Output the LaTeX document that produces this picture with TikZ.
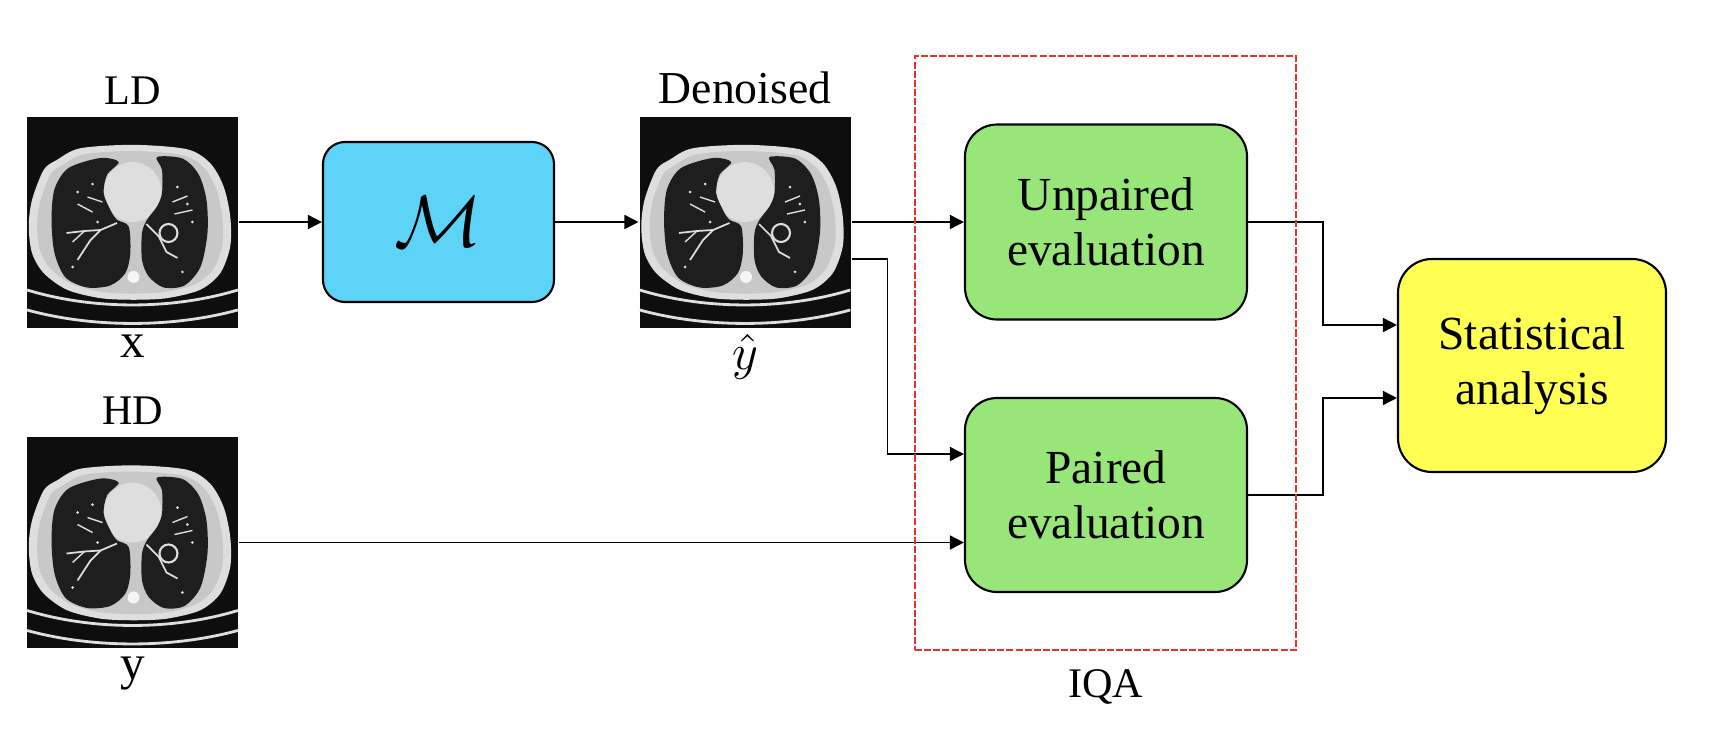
\documentclass[tikz,border=0pt]{standalone}
\usepackage{amsmath}
\usepackage{amssymb}
\usepackage{xcolor}
\usepackage{fontspec}
\setmainfont{Liberation Serif}
\usepackage{tikz}
\usetikzlibrary{arrows.meta,positioning}

\definecolor{modelblue}{RGB}{94,211,248}
\definecolor{evalgreen}{RGB}{152,230,122}
\definecolor{statyellow}{RGB}{255,255,84}
\definecolor{iqared}{RGB}{232,52,40}
\definecolor{ctbg}{RGB}{14,14,14}
\definecolor{cttissue}{RGB}{200,200,200}
\definecolor{ctlight}{RGB}{222,222,222}
\definecolor{ctlung}{RGB}{30,30,30}

\tikzset{
  ctscan/.pic={
    \begin{scope}[x=0.01cm,y=0.01cm]
    \clip (-105.5,-105.5) rectangle (105.5,105.5);
    \fill[ctbg] (-105.5,-105.5) rectangle (105.5,105.5);
    % table
    \draw[ctlight, line width=0.8pt] (-105.5,-68) .. controls (-40,-88) and (40,-88) .. (105.5,-68);
    \draw[ctlight, line width=0.8pt] (-105.5,-88) .. controls (-40,-106) and (40,-106) .. (105.5,-88);
    % body
    \fill[ctlight] plot[smooth cycle] coordinates {(-52.2,73.8) (1.2,77.2) (54.5,72.8) (77.8,58.8) (91.2,35.5) (97.8,5.5) (97.8,-24.5) (87.8,-51.2) (67.8,-67.8) (34.5,-76.2) (1.2,-77.8) (-32.2,-76.2) (-65.5,-67.8) (-88.8,-51.2) (-100.5,-31.2) (-103.8,-4.5) (-100.5,22.2) (-88.8,52.2) (-75.5,62.2)};
    \fill[cttissue, scale=0.92] plot[smooth cycle] coordinates {(-52.2,73.8) (1.2,77.2) (54.5,72.8) (77.8,58.8) (91.2,35.5) (97.8,5.5) (97.8,-24.5) (87.8,-51.2) (67.8,-67.8) (34.5,-76.2) (1.2,-77.8) (-32.2,-76.2) (-65.5,-67.8) (-88.8,-51.2) (-100.5,-31.2) (-103.8,-4.5) (-100.5,22.2) (-88.8,52.2) (-75.5,62.2)};
    \fill[ctlight] (0,30) ellipse (29 and 30);
    % lungs
    \fill[ctlung] plot[smooth cycle] coordinates {(-32.2,64) (-13.8,60) (-25.5,47.2) (-28.8,28.8) (-22.2,12.2) (-15.5,2.2) (-3.8,-4.5) (-2.2,-31.2) (-7.2,-51.2) (-22.2,-63.5) (-45.5,-65.5) (-67,-55.5) (-78,-31.2) (-81,2.2) (-78,33) (-64,54)};
    \fill[ctlung] plot[smooth cycle] coordinates {(24.5,65) (29.5,52.2) (29.5,28.8) (24.5,15.5) (14.5,2.2) (9.5,-11.2) (9.5,-37.8) (16.2,-54.5) (31.2,-65.5) (52,-63.5) (68,-45) (75,-11.2) (74,22.2) (66,48) (50,63.5)};
    % vessels
    \draw[ctlight, line width=0.5pt] (-15.5,-1) -- (-32,-8) -- (-48,-9) -- (-66,-11);
    \draw[ctlight, line width=0.5pt] (-32,-8) -- (-42,-18) -- (-55,-38);
    \draw[ctlight, line width=0.4pt] (-48,-9) -- (-60,-20);
    \draw[ctlight, line width=0.4pt] (-30,20) -- (-45,25) (-40,10) -- (-55,18);
    \draw[ctlight, line width=0.6pt] (36,-11) circle (9);
    \draw[ctlight, line width=0.5pt] (14,-2) -- (26,-14) -- (34,-30) -- (45,-36);
    \draw[ctlight, line width=0.4pt] (40,20) -- (55,26) (42,8) -- (60,12);
    \foreach \p in {(-40,38),(-55,30),(-35,0),(45,35),(55,18),(60,0),(-60,-45),(50,-50)}
      \fill[ctlight] \p circle (1.5);
    % spine
    \fill[white!92!gray] (1,-55) circle (6);
    \end{scope}
  }
}

\begin{document}
\begin{tikzpicture}[auto, node distance=1.5cm, semithick]
\tikzstyle{ctimg}=[fill=ctbg, inner sep=0pt, minimum size=2.11cm]
\tikzstyle{block}=[draw, line width=0.6pt, align=center, font=\fontsize{13.5}{15.5}\selectfont]
\tikzstyle{tag}=[inner sep=0pt, font=\fontsize{12}{14}\selectfont]
\tikzstyle{sym}=[inner sep=0pt, font=\fontsize{14}{16}\selectfont]
\tikzstyle{flow}=[draw, line width=0.45pt, -{Triangle[length=4pt,width=4pt]}]

\useasboundingbox (0,0) rectangle (17.12,7.44);

% images
\node[ctimg] (ld) at (1.325,5.22) {};
\node[ctimg] (hd) at (1.325,2.015) {};
\node[ctimg] (den) at (7.45,5.22) {};
\pic at (ld) {ctscan};
\pic at (hd) {ctscan};
\pic at (den) {ctscan};

\node[tag] (ldtxt) [above=0.1cm of ld] {LD};
\node[sym] (xtxt) [below=0.05cm of ld] {x};
\node[tag] (hdtxt) [above=0.1cm of hd] {HD};
\node[sym] (ytxt) [below=0.07cm of hd] {y};
\node[tag, font=\fontsize{13}{15}\selectfont] (dentxt) [above=0.1cm of den] {Denoised};
\node[sym] (yhat) [below=0.05cm of den] {$\hat{y}$};

% blocks
\node[block, fill=modelblue, rounded corners=0.22cm, minimum width=2.31cm, minimum height=1.6cm] (model) at (4.385,5.22) {\fontsize{22}{24}\selectfont$\mathcal{M}$};
\node[block, fill=evalgreen, rounded corners=0.32cm, minimum width=2.82cm, minimum height=1.95cm] (unpaired) at (11.06,5.22) {Unpaired\\evaluation};
\node[block, fill=evalgreen, rounded corners=0.32cm, minimum width=2.82cm, minimum height=1.94cm] (paired) at (11.06,2.49) {Paired\\evaluation};
\node[block, fill=statyellow, rounded corners=0.34cm, minimum width=2.68cm, minimum height=2.13cm] (stat) at (15.32,3.785) {Statistical\\analysis};

\path (ld) edge[flow] (model)
      (model) edge[flow] (den)
      (den) edge[flow] (unpaired);
\draw[flow] ([yshift=-0.37cm]den.east) -- ++(0.36,0) |- ([yshift=0.41cm]paired.west);
\draw[flow] (hd.east) -- (hd.east -| paired.west);
\draw[flow] (unpaired.east) -- ++(0.75,0) |- ([yshift=0.405cm]stat.west);
\draw[flow] (paired.east) -- ++(0.75,0) |- ([yshift=-0.325cm]stat.west);

% IQA frame
\node[draw=iqared, line width=0.55pt, dash pattern=on 2pt off 0.6pt, inner sep=0pt, minimum width=3.81cm, minimum height=5.94cm] (iqa) at (11.055,3.91) {};
\node[tag] (iqatxt) [below=0.18cm of iqa] {IQA};

\end{tikzpicture}
\end{document}
